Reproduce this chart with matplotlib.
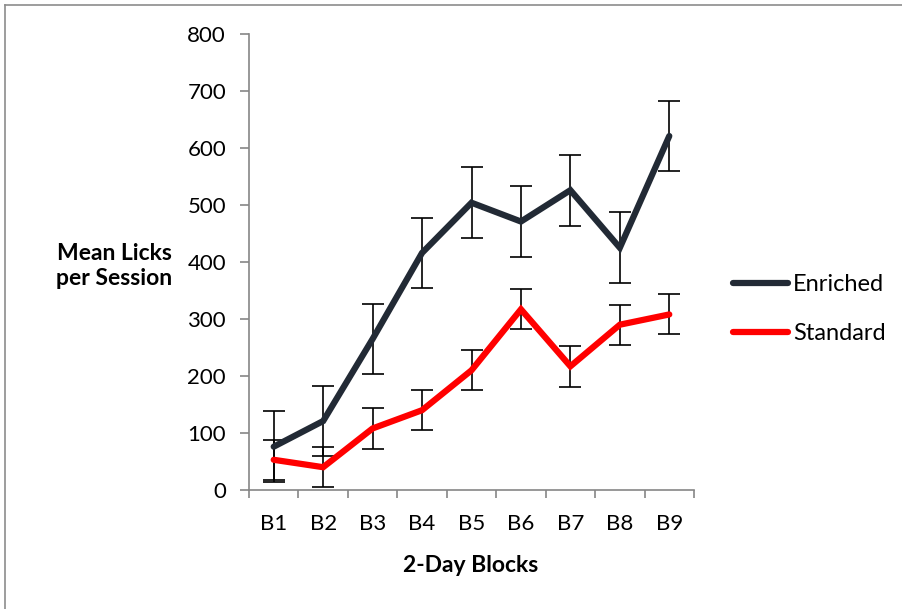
import matplotlib
matplotlib.use("Agg")
import matplotlib.pyplot as plt
from matplotlib.lines import Line2D

plt.rcParams['font.family'] = ['Lato', 'DejaVu Sans']

blocks = ["B1", "B2", "B3", "B4", "B5", "B6", "B7", "B8", "B9"]
enriched = [76, 121, 265, 416, 504, 471, 526, 425, 621]
enriched_err = [62, 62, 62, 62, 62, 62, 62, 62, 62]
standard = [53, 40, 108, 140, 210, 317, 217, 290, 308]
standard_err = [35, 35, 36, 35, 35, 35, 36, 35, 35]
yticks = [0, 100, 200, 300, 400, 500, 600, 700, 800]

W, H = 902, 609
fig = plt.figure(figsize=(W / 100, H / 100), dpi=100)
ax = fig.add_axes([249 / W, 1 - 490 / H, (694 - 249) / W, (490 - 34) / H])

x = list(range(1, len(blocks) + 1))
ax.errorbar(x, enriched, yerr=enriched_err, fmt='none', ecolor='black',
            elinewidth=1.2, capsize=8, capthick=1.2, zorder=2)
ax.errorbar(x, standard, yerr=standard_err, fmt='none', ecolor='black',
            elinewidth=1.2, capsize=8, capthick=1.2, zorder=2)
ax.plot(x, enriched, color='#222a35', lw=4.5, solid_capstyle='round',
        solid_joinstyle='miter', label='Enriched', zorder=3)
ax.plot(x, standard, color='#ff0000', lw=4.5, solid_capstyle='round',
        solid_joinstyle='miter', label='Standard', zorder=3)

ax.set_xlim(0.5, len(blocks) + 0.5)
ax.set_ylim(0, 800)
ax.set_yticks(yticks)
ax.set_yticklabels([str(v) for v in yticks])
ax.set_xticks(x)
ax.set_xticklabels(blocks)
ax.set_xticks([i + 0.5 for i in range(0, len(blocks) + 1)], minor=True)
ax.tick_params(axis='x', which='major', length=0, pad=17, labelsize=16)
ax.tick_params(axis='x', which='minor', length=6, color='#868686', width=1.2)
ax.tick_params(axis='y', length=6.5, color='#868686', width=1.2, pad=10, labelsize=16)

for s in ['top', 'right']:
    ax.spines[s].set_visible(False)
for s in ['left', 'bottom']:
    ax.spines[s].set_color('#868686')
    ax.spines[s].set_linewidth(1.2)

fig.text(114 / W, 1 - 266 / H, "Mean Licks\nper Session", ha='center', va='center',
         fontsize=16.5, fontweight='bold', linespacing=1.25)
fig.text(471 / W, 1 - 566 / H, "2-Day Blocks", ha='center', va='center',
         fontsize=16.5, fontweight='bold')

leg = fig.legend(loc='center left', bbox_to_anchor=(733 / W, 1 - 309 / H),
                 frameon=False, fontsize=17, handlelength=2.33, handletextpad=0.2,
                 labelspacing=1.2, borderpad=0, borderaxespad=0)

fig.add_artist(Line2D([5 / W, 1], [1 - 5 / H, 1 - 5 / H], transform=fig.transFigure,
                      color='#8c8c8c', lw=1.2))
fig.add_artist(Line2D([5 / W, 5 / W], [0, 1 - 5 / H], transform=fig.transFigure,
                      color='#8c8c8c', lw=1.2))

fig.savefig("out.png", dpi=100)
